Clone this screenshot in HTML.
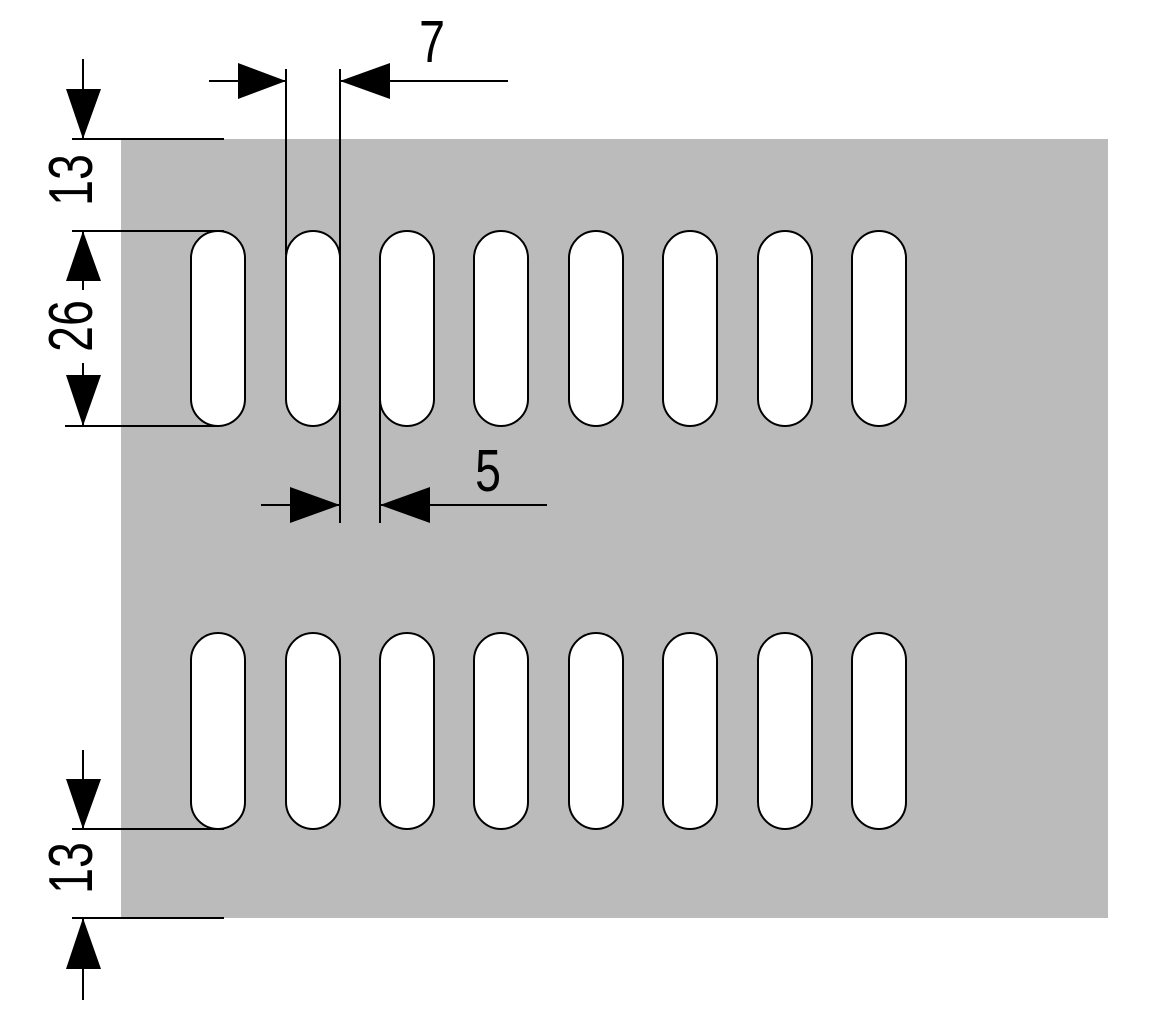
<!DOCTYPE html>
<html><head><meta charset="utf-8"><style>
html,body{margin:0;padding:0;background:#fff;}
</style></head><body>
<svg width="1150" height="1029" viewBox="0 0 1150 1029" xmlns="http://www.w3.org/2000/svg" font-family="Liberation Sans, sans-serif">
<rect x="121" y="139" width="987" height="779" fill="#bbbbbb"/>
<g fill="#fff" stroke="#000" stroke-width="2">
<rect x="191" y="231" width="54" height="195" rx="27"/>
<rect x="286" y="231" width="54" height="195" rx="27"/>
<rect x="380" y="231" width="54" height="195" rx="27"/>
<rect x="474" y="231" width="54" height="195" rx="27"/>
<rect x="569" y="231" width="54" height="195" rx="27"/>
<rect x="663" y="231" width="54" height="195" rx="27"/>
<rect x="758" y="231" width="54" height="195" rx="27"/>
<rect x="852" y="231" width="54" height="195" rx="27"/>
<rect x="191" y="633" width="54" height="196" rx="27"/>
<rect x="286" y="633" width="54" height="196" rx="27"/>
<rect x="380" y="633" width="54" height="196" rx="27"/>
<rect x="474" y="633" width="54" height="196" rx="27"/>
<rect x="569" y="633" width="54" height="196" rx="27"/>
<rect x="663" y="633" width="54" height="196" rx="27"/>
<rect x="758" y="633" width="54" height="196" rx="27"/>
<rect x="852" y="633" width="54" height="196" rx="27"/>
</g>
<rect x="42" y="142" width="50" height="78" fill="#fff"/>
<rect x="42" y="290" width="50" height="72" fill="#fff"/>
<rect x="42" y="832" width="50" height="74" fill="#fff"/>
<g stroke="#000" stroke-width="2" fill="none">
<line x1="83" y1="59" x2="83" y2="139"/>
<line x1="72" y1="139" x2="224" y2="139"/>
<line x1="72" y1="231" x2="224" y2="231"/>
<line x1="65" y1="426" x2="218" y2="426"/>
<line x1="83" y1="231" x2="83" y2="290"/>
<line x1="83" y1="363" x2="83" y2="426"/>
<line x1="83" y1="750" x2="83" y2="829"/>
<line x1="72" y1="829" x2="224" y2="829"/>
<line x1="72" y1="918" x2="224" y2="918"/>
<line x1="83" y1="918" x2="83" y2="1000"/>
<line x1="286" y1="69" x2="286" y2="255"/>
<line x1="340" y1="69" x2="340" y2="523"/>
<line x1="209" y1="81" x2="286" y2="81"/>
<line x1="340" y1="81" x2="508" y2="81"/>
<line x1="380" y1="340" x2="380" y2="523"/>
<line x1="261" y1="505" x2="340" y2="505"/>
<line x1="380" y1="505" x2="547" y2="505"/>
</g>
<g fill="#000">
<polygon points="66,89 101,89 83,139"/>
<polygon points="66,281 101,281 83,231"/>
<polygon points="66,375 101,375 83,426"/>
<polygon points="66,779 101,779 83,829"/>
<polygon points="66,969 101,969 83,918"/>
<polygon points="238,63 238,99 286,81"/>
<polygon points="390,63 390,99 340,81"/>
<polygon points="290,487 290,523 340,505"/>
<polygon points="430,487 430,523 380,505"/>
</g>
<g font-size="62" fill="#000" text-anchor="middle">
<text transform="translate(92,180) rotate(-90) scale(0.75,1)">13</text>
<text transform="translate(92,326) rotate(-90) scale(0.75,1)">26</text>
<text transform="translate(92,868) rotate(-90) scale(0.75,1)">13</text>
<text transform="translate(432,62) scale(0.75,0.95)">7</text>
<text transform="translate(488,491) scale(0.75,0.95)">5</text>
</g>
</svg>
</body></html>
